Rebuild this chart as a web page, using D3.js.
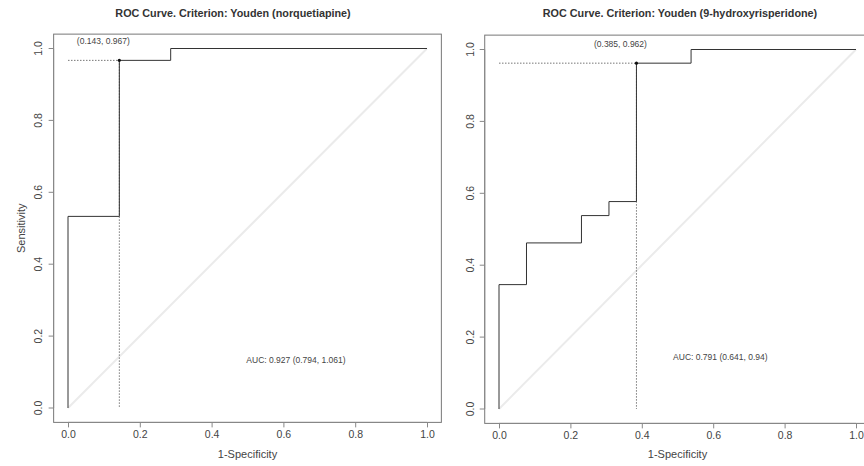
<!DOCTYPE html>
<html><head><meta charset="utf-8">
<script src="https://cdn.jsdelivr.net/npm/d3@7"></script>
<style>body{margin:0;background:#fff}svg{display:block;font-family:"Liberation Sans",Arial,sans-serif}</style>
</head><body><svg id="c" width="864" height="466"></svg>
<script>
const titles = ["ROC Curve. Criterion: Youden (norquetiapine)", "ROC Curve. Criterion: Youden (9-hydroxyrisperidone)"];
const fprNorq = [0, 0, 0.143, 0.143, 0.286, 0.286, 1];
const tprNorq = [0, 0.533, 0.533, 0.967, 0.967, 1, 1];
const fprHydro = [0, 0, 0.077, 0.077, 0.231, 0.231, 0.308, 0.308, 0.385, 0.385, 0.538, 0.538, 1];
const tprHydro = [0, 0.346, 0.346, 0.462, 0.462, 0.538, 0.538, 0.577, 0.577, 0.962, 0.962, 1, 1];
const optimalPoints = [[0.143, 0.967], [0.385, 0.962]];
const optimalLabels = ["(0.143, 0.967)", "(0.385, 0.962)"];
const aucLabels = ["AUC: 0.927 (0.794, 1.061)", "AUC: 0.791 (0.641, 0.94)"];
const tickValues = [0, 0.2, 0.4, 0.6, 0.8, 1.0];

const svg = d3.select("#c");
const panels = [
  {x0: 68, x1: 427, y0: 408, y1: 48.5, fpr: fprNorq, tpr: tprNorq, ylab: true, aucX: 0.635, aucY: 0.125, titleX: 233},
  {x0: 499, x1: 856, y0: 409, y1: 49.5, fpr: fprHydro, tpr: tprHydro, ylab: false, aucX: 0.62, aucY: 0.136, titleX: 680}
];
panels.forEach((p, i) => {
  const xs = d3.scaleLinear().domain([0, 1]).range([p.x0, p.x1]);
  const ys = d3.scaleLinear().domain([0, 1]).range([p.y0, p.y1]);
  const g = svg.append("g");
  g.append("rect").attr("x", xs(-0.04)).attr("y", ys(1.04)).attr("width", xs(1.04) - xs(-0.04)).attr("height", ys(-0.04) - ys(1.04))
    .attr("fill", "none").attr("stroke", "#777").attr("stroke-width", 1);
  const xa = d3.axisBottom(xs).tickValues(tickValues).tickFormat(d3.format(".1f")).tickSize(5).tickPadding(3);
  const xg = g.append("g").attr("transform", `translate(0,${ys(-0.04)})`).call(xa);
  xg.select(".domain").attr("d", `M${xs(0)},0H${xs(1)}`).attr("stroke", "#888");
  xg.selectAll("line").attr("stroke", "#888");
  xg.selectAll("text").attr("font-size", 10.5).attr("fill", "#444");
  const ya = d3.axisLeft(ys).tickValues(tickValues).tickFormat(d3.format(".1f")).tickSize(5).tickPadding(4);
  const yg = g.append("g").attr("transform", `translate(${xs(-0.04)},0)`).call(ya);
  yg.select(".domain").attr("d", `M0,${ys(0)}V${ys(1)}`).attr("stroke", "#888");
  yg.selectAll("line").attr("stroke", "#888");
  yg.selectAll("text").attr("font-size", 10.5).attr("fill", "#444")
    .attr("text-anchor", "middle").attr("dy", null)
    .attr("transform", d => `translate(-14,${ys(d)}) rotate(-90)`).attr("x", 0).attr("y", 0)
    .attr("dominant-baseline", "middle");
  yg.selectAll(".tick").attr("transform", null);
  yg.selectAll(".tick line").attr("transform", d => `translate(0,${ys(d)})`);
  g.append("line").attr("x1", xs(0)).attr("y1", ys(0)).attr("x2", xs(1)).attr("y2", ys(1))
    .attr("stroke", "#ebebeb").attr("stroke-width", 2);
  const op = optimalPoints[i];
  g.append("line").attr("x1", xs(0)).attr("y1", ys(op[1])).attr("x2", xs(op[0])).attr("y2", ys(op[1]))
    .attr("stroke", "#777").attr("stroke-dasharray", "1.5,1.5");
  g.append("line").attr("x1", xs(op[0])).attr("y1", ys(op[1])).attr("x2", xs(op[0])).attr("y2", ys(0))
    .attr("stroke", "#777").attr("stroke-dasharray", "1.5,1.5");
  const pts = p.fpr.map((f, k) => [f, p.tpr[k]]);
  g.append("path").attr("d", d3.line().x(d => xs(d[0])).y(d => ys(d[1]))(pts))
    .attr("fill", "none").attr("stroke", "#333").attr("stroke-width", 1);
  g.append("circle").attr("cx", xs(op[0])).attr("cy", ys(op[1])).attr("r", 1.6).attr("fill", "#111");
  g.append("text").attr("x", xs(op[0]) - 16).attr("y", ys(op[1]) - 16).attr("text-anchor", "middle")
    .attr("font-size", 8.5).attr("fill", "#444").text(optimalLabels[i]);
  g.append("text").attr("x", xs(p.aucX)).attr("y", ys(p.aucY)).attr("text-anchor", "middle")
    .attr("font-size", 8.5).attr("fill", "#444").text(aucLabels[i]);
  g.append("text").attr("x", p.titleX).attr("y", 17).attr("text-anchor", "middle")
    .attr("font-size", 10.8).attr("font-weight", "bold").attr("fill", "#333").text(titles[i]);
  g.append("text").attr("x", xs(0.5)).attr("y", 458).attr("text-anchor", "middle")
    .attr("font-size", 11).attr("fill", "#444").text("1-Specificity");
  if (p.ylab) {
    g.append("text").attr("transform", `translate(22,${ys(0.5)}) rotate(-90)`).attr("text-anchor", "middle")
      .attr("dominant-baseline", "middle").attr("font-size", 11).attr("fill", "#444").text("Sensitivity");
  }
});
</script></body></html>
